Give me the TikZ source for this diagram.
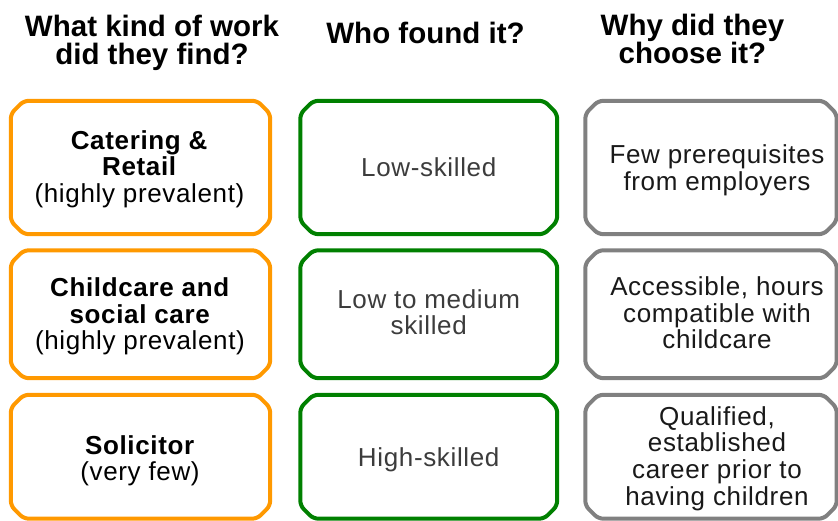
\documentclass[tikz,border=0pt]{standalone}
\usepackage{fontspec}
\setmainfont{Liberation Sans}
\newfontfamily\bodyfont{Liberation Sans}[LetterSpace=2.5]
\definecolor{orangeline}{RGB}{255,153,0}
\definecolor{greenline}{RGB}{0,128,0}
\definecolor{grayline}{RGB}{128,128,128}
\definecolor{greentext}{RGB}{60,60,60}
\definecolor{graytext}{RGB}{25,25,25}
\newcommand\chamframe[2]{%
  \draw[line width=4pt, #2, rounded corners=5pt]
    ([xshift=13pt]#1.north west) -- ([xshift=-13pt]#1.north east)
    -- ([yshift=-13pt]#1.north east) -- ([yshift=13pt]#1.south east)
    -- ([xshift=-13pt]#1.south east) -- ([xshift=13pt]#1.south west)
    -- ([yshift=13pt]#1.south west) -- ([yshift=-13pt]#1.north west) -- cycle;}
\begin{document}
\begin{tikzpicture}[x=1pt,y=-1pt,
  header/.style={align=center, inner sep=0pt, font=\fontsize{29.5}{28.3}\selectfont\bfseries},
  cell/.style 2 args={rectangle, inner sep=0pt, minimum width=#1pt, minimum height=#2pt},
  bodytext/.style={align=center, inner sep=0pt, font=\bodyfont\fontsize{26}{26.6}\selectfont}]
\useasboundingbox (0,0) rectangle (838,521);
\fill[white] (0,0) rectangle (838,521);
% headers
\node[header] (h1) at (152,43.2) {What kind of work\\did they find?};
\node[header] (h2) at (425.5,32.6) {Who found it?};
\node[header] (h3) at (692.5,38.9) {Why did they\\choose it?};
% boxes
\node[cell={259}{133}] (a1) at (140.5,167.5) {};
\node[cell={259}{127.5}] (a2) at (140.5,314.25) {};
\node[cell={259}{123.5}] (a3) at (140.5,456.75) {};
\node[cell={256.5}{133}] (b1) at (428.75,167.5) {};
\node[cell={256.5}{127.5}] (b2) at (428.75,314.25) {};
\node[cell={256.5}{123.5}] (b3) at (428.75,456.75) {};
\node[cell={251}{133}] (c1) at (711,167.5) {};
\node[cell={251}{127.5}] (c2) at (711,314.25) {};
\node[cell={251}{123.5}] (c3) at (711,456.75) {};
\chamframe{a1}{orangeline}
\chamframe{a2}{orangeline}
\chamframe{a3}{orangeline}
\chamframe{b1}{greenline}
\chamframe{b2}{greenline}
\chamframe{b3}{greenline}
\chamframe{c1}{grayline}
\chamframe{c2}{grayline}
\chamframe{c3}{grayline}
% column 1 texts
\node[bodytext] (ta1) at ([xshift=-1pt,yshift=-1.5pt]a1.center) {\textbf{Catering \&}\\\textbf{Retail}\\(highly prevalent)};
\node[bodytext] (ta2) at ([xshift=-0.5pt,yshift=-2.3pt]a2.center) {\textbf{Childcare and}\\\textbf{social care}\\(highly prevalent)};
\node[bodytext] (ta3) at ([xshift=-0.5pt,yshift=-4pt]a3.center) {\textbf{Solicitor}\\(very few)};
% column 2 texts
\node[bodytext, text=greentext] (tb1) at (b1.center) {Low-skilled};
\node[bodytext, text=greentext] (tb2) at ([yshift=2pt]b2.center) {Low to medium\\skilled};
\node[bodytext, text=greentext] (tb3) at ([yshift=-3pt]b3.center) {High-skilled};
% column 3 texts
\node[bodytext, text=graytext] (tc1) at ([xshift=6pt,yshift=-3pt]c1.center) {Few prerequisites\\from employers};
\node[bodytext, text=graytext] (tc2) at ([xshift=6pt,yshift=1.3pt]c2.center) {Accessible, hours\\compatible with\\childcare};
\node[bodytext, text=graytext] (tc3) at ([xshift=6pt,yshift=-1.7pt]c3.center) {Qualified,\\established\\career prior to\\having children};
\end{tikzpicture}
\end{document}
